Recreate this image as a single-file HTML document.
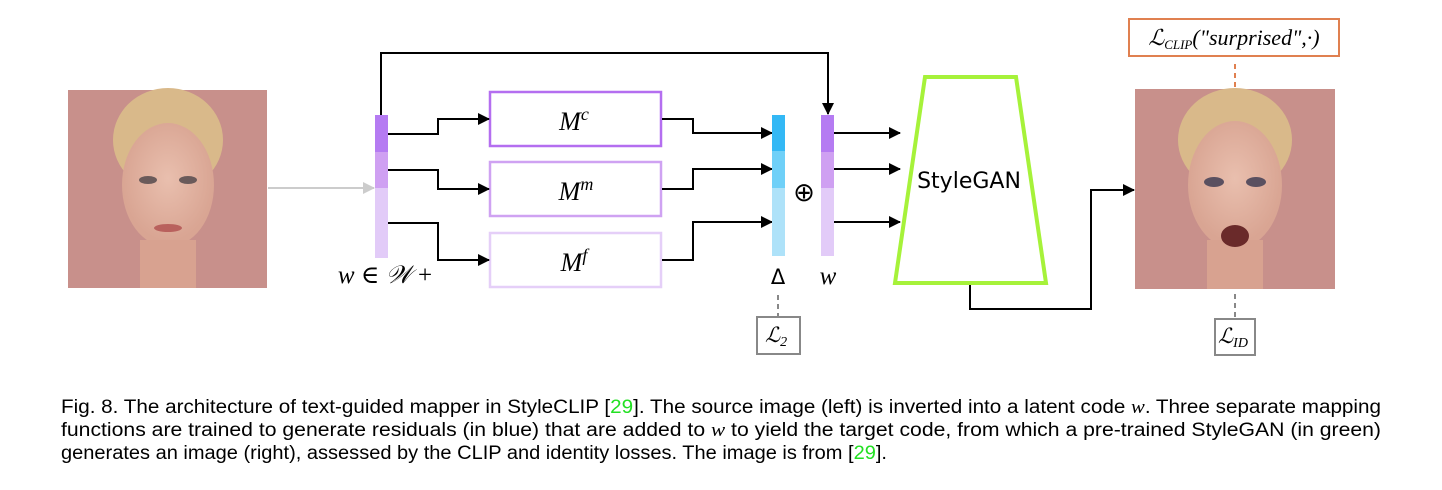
<!DOCTYPE html>
<html><head><meta charset="utf-8"><style>html,body{margin:0;padding:0;background:#fff}svg{display:block}</style></head>
<body>
<svg width="1442" height="490" viewBox="0 0 1442 490" xmlns="http://www.w3.org/2000/svg">
<defs>
<marker id="ah" markerWidth="12" markerHeight="12" refX="11" refY="6" orient="auto" markerUnits="userSpaceOnUse"><path d="M0,0 L12,6 L0,12 z" fill="#000"/></marker>
<marker id="ag" markerWidth="12" markerHeight="12" refX="11" refY="6" orient="auto" markerUnits="userSpaceOnUse"><path d="M0,0 L12,6 L0,12 z" fill="#ccc"/></marker>
<radialGradient id="skin" cx="50%" cy="45%" r="50%"><stop offset="0" stop-color="#e9bfae"/><stop offset="1" stop-color="#d9a593"/></radialGradient>
</defs>
<!-- left face -->
<rect x="68" y="90" width="199" height="198" fill="#c8908b"/>
<ellipse cx="168" cy="140" rx="55" ry="52" fill="#d9b98a"/>
<ellipse cx="168" cy="185" rx="46" ry="62" fill="url(#skin)"/>
<rect x="140" y="240" width="56" height="48" fill="#d8a290"/>
<ellipse cx="148" cy="180" rx="9" ry="4" fill="#6a5a5a"/><ellipse cx="188" cy="180" rx="9" ry="4" fill="#6a5a5a"/>
<ellipse cx="168" cy="228" rx="14" ry="4" fill="#b9615d"/>
<!-- right face -->
<rect x="1135" y="89" width="200" height="200" fill="#c8908b"/>
<ellipse cx="1235" cy="140" rx="57" ry="52" fill="#d9b98a"/>
<ellipse cx="1235" cy="185" rx="47" ry="64" fill="url(#skin)"/>
<rect x="1207" y="240" width="56" height="49" fill="#d8a290"/>
<ellipse cx="1214" cy="182" rx="10" ry="5" fill="#5a5060"/><ellipse cx="1256" cy="182" rx="10" ry="5" fill="#5a5060"/>
<ellipse cx="1235" cy="236" rx="14" ry="11" fill="#6a2a2a"/>
<!-- gray input arrow -->
<line x1="268" y1="188" x2="374" y2="188" stroke="#ccc" stroke-width="2" marker-end="url(#ag)"/>
<!-- left vector -->
<rect x="375" y="115" width="13" height="37" fill="#b57bf2"/>
<rect x="375" y="152" width="13" height="36" fill="#cfa0f2"/>
<rect x="375" y="188" width="13" height="70" fill="#e2cbf8"/>
<!-- top loop -->
<polyline points="381,115 381,53 828,53 828,114" fill="none" stroke="#000" stroke-width="2" marker-end="url(#ah)"/>
<!-- boxes -->
<rect x="490" y="92" width="171" height="54" fill="#fff" stroke="#b46ef0" stroke-width="2.5"/>
<rect x="490" y="162" width="171" height="54" fill="#fff" stroke="#cfa2f2" stroke-width="2.5"/>
<rect x="490" y="233" width="171" height="54" fill="#fff" stroke="#e5cff8" stroke-width="2.5"/>
<g font-family="Liberation Serif, serif" font-style="italic" font-size="26" text-anchor="middle">
<text x="574" y="130">M<tspan font-size="18" dy="-10">c</tspan></text>
<text x="576" y="200">M<tspan font-size="18" dy="-10">m</tspan></text>
<text x="574" y="271">M<tspan font-size="18" dy="-10">f</tspan></text>
</g>
<g fill="none" stroke="#000" stroke-width="2">
<polyline points="388,134 438,134 438,119 489,119" marker-end="url(#ah)"/>
<polyline points="388,170 438,170 438,189 489,189" marker-end="url(#ah)"/>
<polyline points="388,223 438,223 438,260 489,260" marker-end="url(#ah)"/>
<polyline points="662,119 693,119 693,133 772,133" marker-end="url(#ah)"/>
<polyline points="662,189 693,189 693,169 772,169" marker-end="url(#ah)"/>
<polyline points="662,260 693,260 693,222 772,222" marker-end="url(#ah)"/>
<line x1="834" y1="133" x2="900" y2="133" marker-end="url(#ah)"/>
<line x1="834" y1="169" x2="900" y2="169" marker-end="url(#ah)"/>
<line x1="834" y1="222" x2="900" y2="222" marker-end="url(#ah)"/>
<polyline points="970,284 970,309 1091,309 1091,190 1134,190" marker-end="url(#ah)"/>
</g>
<!-- delta vector -->
<rect x="772" y="115" width="13" height="36" fill="#33b8f5"/>
<rect x="772" y="151" width="13" height="37" fill="#6fd0f8"/>
<rect x="772" y="188" width="13" height="68" fill="#aee2f9"/>
<!-- w vector -->
<rect x="821" y="115" width="13" height="37" fill="#b57bf2"/>
<rect x="821" y="152" width="13" height="36" fill="#cfa0f2"/>
<rect x="821" y="188" width="13" height="68" fill="#e2cbf8"/>
<text x="804" y="201" font-family="DejaVu Sans, sans-serif" font-size="26" text-anchor="middle">⊕</text>
<!-- StyleGAN -->
<polygon points="925,77 1016,77 1046,283 895,283" fill="#fff" stroke="#a6f23a" stroke-width="4"/>
<text x="969" y="188" font-family="DejaVu Sans, sans-serif" font-size="22" text-anchor="middle">StyleGAN</text>
<!-- labels -->
<text x="385" y="283" font-family="Liberation Serif, DejaVu Serif, serif" font-size="25" text-anchor="middle"><tspan font-style="italic">w</tspan> ∈ <tspan font-style="italic">𝒲</tspan> +</text>
<text x="778" y="284" font-family="DejaVu Sans, sans-serif" font-size="21" text-anchor="middle">Δ</text>
<text x="828" y="284" font-family="Liberation Serif, serif" font-style="italic" font-size="25" text-anchor="middle">w</text>
<!-- loss boxes -->
<line x1="778" y1="295" x2="778" y2="316" stroke="#888" stroke-width="2" stroke-dasharray="5,4"/>
<rect x="757" y="317" width="43" height="37" fill="#fff" stroke="#888" stroke-width="2"/>
<text x="776" y="342" font-family="Liberation Serif, serif" font-style="italic" font-size="21" text-anchor="middle">ℒ<tspan font-size="14" dy="4">2</tspan></text>
<line x1="1235" y1="294" x2="1235" y2="317" stroke="#888" stroke-width="2" stroke-dasharray="5,4"/>
<rect x="1215" y="319" width="40" height="36" fill="#fff" stroke="#888" stroke-width="2"/>
<text x="1233" y="343" font-family="Liberation Serif, serif" font-style="italic" font-size="21" text-anchor="middle">ℒ<tspan font-size="14" dy="4">ID</tspan></text>
<line x1="1235" y1="64" x2="1235" y2="87" stroke="#e08050" stroke-width="2" stroke-dasharray="5,4"/>
<rect x="1129" y="19" width="210" height="37" fill="#fff" stroke="#e08050" stroke-width="2"/>
<text x="1234" y="45" font-family="Liberation Serif, serif" font-style="italic" font-size="22" text-anchor="middle">ℒ<tspan font-size="13" dy="4">CLIP</tspan><tspan dy="-4">("surprised",·)</tspan></text>
<!-- caption -->
<g font-family="Liberation Sans, Arial, sans-serif" font-size="19" fill="#000">
<text x="61" y="413" textLength="1320" lengthAdjust="spacingAndGlyphs">Fig. 8.  The architecture of text-guided mapper in StyleCLIP [<tspan fill="#22e022">29</tspan>]. The source image (left) is inverted into a latent code <tspan font-family="Liberation Serif, serif" font-style="italic">w</tspan>. Three separate mapping</text>
<text x="61" y="436" textLength="1320" lengthAdjust="spacingAndGlyphs">functions are trained to generate residuals (in blue) that are added to <tspan font-family="Liberation Serif, serif" font-style="italic">w</tspan> to yield the target code, from which a pre-trained StyleGAN (in green)</text>
<text x="61" y="459" textLength="826" lengthAdjust="spacingAndGlyphs">generates an image (right), assessed by the CLIP and identity losses. The image is from [<tspan fill="#22e022">29</tspan>].</text>
</g>
</svg>
</body></html>
